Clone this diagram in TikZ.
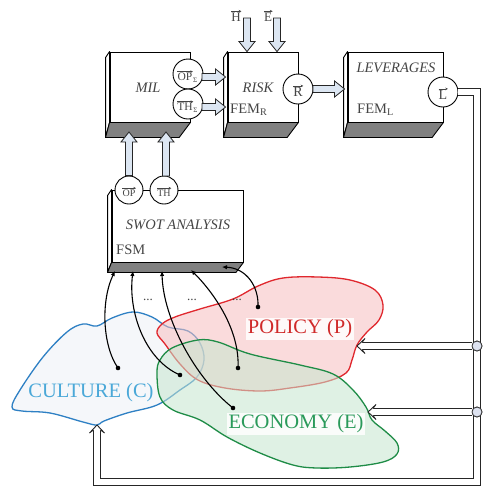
\documentclass[tikz,border=0pt]{standalone}
\usepackage{fontspec}
\setmainfont{Liberation Serif}
\usetikzlibrary{arrows.meta,calc}

\definecolor{boxtext}{HTML}{454545}
\definecolor{facegray}{HTML}{808080}
\definecolor{arrowfill}{HTML}{DCE6F2}
\definecolor{culturec}{HTML}{2E80C4}
\definecolor{culturet}{HTML}{4AA8D8}
\definecolor{culturef}{HTML}{EEF2F7}
\definecolor{policyc}{HTML}{E0282E}
\definecolor{policyt}{HTML}{D02A2A}
\definecolor{policyf}{HTML}{F7BFC0}
\definecolor{economyc}{HTML}{1E8C46}
\definecolor{economyt}{HTML}{2A9A5A}
\definecolor{economyf}{HTML}{C6E6CF}
\definecolor{jointfill}{HTML}{DDE2F0}

\tikzset{
  frontface/.style={draw, fill=white, line width=0.9pt, inner sep=0pt, rectangle},
  sideface/.style={draw, fill=white, line width=0.9pt, line join=round},
  bottomface/.style={draw, fill=facegray, line width=0.9pt, line join=round},
  port/.style={draw, circle, fill=white, line width=0.9pt, inner sep=0pt,
    minimum size=#1},
  port/.default=30pt,
  portlabel/.style={text=boxtext, inner sep=0pt},
  sublabel/.style={text=boxtext, inner sep=0pt, font=\fontsize{7}{8}\selectfont},
  vecarrow/.style={draw=boxtext, line width=0.5pt, -{Stealth[length=2.6pt,width=2.6pt]}},
  fatarrow/.style={draw=black!85, fill=arrowfill, line width=0.8pt, line join=miter},
  pipe/.style={draw=black!85, double=white, double distance=5.5pt, line width=0.9pt,
    line join=miter},
  pipehead/.style={draw=black!85, fill=white, line width=0.9pt, line join=miter},
  junction/.style={draw=black!80, circle, fill=jointfill, minimum size=10pt,
    inner sep=0pt, line width=0.8pt},
  boxlabel/.style={text=boxtext, inner sep=0pt, font=\fontsize{14.5}{16}\selectfont},
  link/.style={line width=1.1pt, -{Latex[length=5pt,width=4.5pt]}},
  bloblabel/.style={font=\fontsize{20.5}{22}\selectfont, fill=white,
    fill opacity=0.85, text opacity=1, inner sep=1.5pt},
  blob/.style={line width=1.3pt, fill opacity=0.55},
}

% a block seen from below-left: front face, thin left face, grey bottom face
\newcommand\cubeblock[6]{%
  \node[frontface, minimum width=#4pt, minimum height=#5pt] (#1) at (#2,#3) {};
  \draw[sideface] (#1.north west) -- ++(-4,6) -- ($(#1.south west)+(-4,#6)$)
    -- (#1.south west) -- cycle;
  \draw[bottomface] (#1.south west) -- (#1.south east) -- ++({-0.75*#6},#6)
    -- ($(#1.south west)+(-4,#6)$) -- cycle;
}

% broad hollow arrow between two named coordinates
\newcommand\fatarrowpath[2]{%
  \coordinate (fah) at ($(#2)!10pt!(#1)$);
  \draw[fatarrow] ($(#1)!3.5pt!90:(#2)$) -- ($(fah)!3.5pt!-90:(#1)$)
    -- ($(fah)!8pt!-90:(#1)$) -- (#2) -- ($(fah)!8pt!90:(#1)$)
    -- ($(fah)!3.5pt!90:(#1)$) -- ($(#1)!3.5pt!-90:(#2)$) -- cycle;
}

% open head of a double-line pipe: tip, point back along the pipe
\newcommand\pipeheadat[2]{%
  \coordinate (phb) at ($(#1)!8pt!(#2)$);
  \coordinate (phi) at ($(#1)!5pt!(#2)$);
  \path[pipehead] ($(phi)!3.6pt!90:(#2)$) -- ($(phb)!7.5pt!90:(#2)$) -- (#1)
    -- ($(phb)!7.5pt!-90:(#2)$) -- ($(phi)!3.6pt!-90:(#2)$);
}

% vector arrow over a named text node
\newcommand\vecover[1]{%
  \draw[vecarrow] ($(#1.north west)+(0,-1.3)$) -- ($(#1.north east)+(0.4,-1.3)$);
}

\begin{document}
\begin{tikzpicture}[x=1pt,y=-1pt]
\fill[white] (0,0) rectangle (483,488);
\useasboundingbox (0,0) rectangle (483,488);

% ---------- environment clouds ----------
\draw[blob, draw=culturec, fill=culturef] plot[smooth cycle, tension=0.6] coordinates {
  (12,407) (20,390) (43,357) (67,332) (83,324) (97,326) (112,318) (133,312)
  (152,317) (168,327) (188,331) (200,343) (204,360) (197,377) (180,390)
  (157,405) (127,413) (104,421) (97,425) (83,422) (50,413) (22,411)};
\coordinate (cbot) at (97,425);
\node[text=culturet, font=\fontsize{20.5}{22}\selectfont, inner sep=0pt] (cult) at (91,393) {CULTURE (C)};

\draw[blob, draw=policyc, fill=policyf] plot[smooth cycle, tension=0.6] coordinates {
  (157,333) (162,324) (175,317) (200,309) (233,299) (258,286) (283,278)
  (318,277) (350,280) (375,290) (383,305) (379,320) (367,332) (357,345)
  (352,360) (346,373) (325,382) (290,388) (260,391) (225,388) (198,380)
  (180,364) (165,344)};
\coordinate (pin) at (357,346);
\node[bloblabel, text=policyt] (pol) at (300,329) {POLICY (P)};

\draw[blob, draw=economyc, fill=economyf] plot[smooth cycle, tension=0.6] coordinates {
  (157,373) (160,360) (172,348) (198,340) (218,342) (250,354) (300,365)
  (333,374) (353,390) (366,407) (372,420) (385,431) (397,443) (397,454)
  (383,462) (350,467) (317,468) (293,465) (260,453) (227,437) (200,420)
  (173,410) (160,397)};
\coordinate (ein) at (368,412);
\node[bloblabel, text=economyt] (eco) at (296,424) {ECONOMY (E)};

% ---------- blocks ----------
\cubeblock{mil}{150}{87}{80}{70}{15}
\cubeblock{risk}{263}{87}{70}{70}{15}
\cubeblock{lev}{395.5}{87}{95}{70}{15}
\cubeblock{swot}{177.5}{226}{131}{72}{10}

\node[boxlabel, font=\itshape\fontsize{14.5}{16}\selectfont] (milt) at (148,88) {MIL};
\node[boxlabel, font=\itshape\fontsize{14.5}{16}\selectfont] (riskt) at (258,88) {RISK};
\node[boxlabel, anchor=west] (femr) at (230,110) {FEM\textsubscript{R}};
\node[boxlabel, font=\itshape\fontsize{14.5}{16}\selectfont] (levt) at (396,68) {LEVERAGES};
\node[boxlabel, anchor=west] (feml) at (357,110) {FEM\textsubscript{L}};
\node[boxlabel, font=\itshape\fontsize{14.5}{16}\selectfont] (swott) at (178,225) {SWOT ANALYSIS};
\node[boxlabel, anchor=west] (fsm) at (116,250) {FSM};

% ---------- ports ----------
\node[port] (ops) at (188,74) {};
\node[port] (ths) at (188,104) {};
\node[port] (r) at (298,89) {};
\node[port] (l) at (443,92) {};
\node[port=28pt] (op) at (129,190) {};
\node[port=28pt] (th) at (164,190) {};

\node[portlabel, font=\fontsize{11.5}{13}\selectfont] (opst) at (185,77) {OP};
\node[sublabel, anchor=base west] (opss) at ($(opst.base east)+(0.3,2)$) {Σ};
\vecover{opst}
\node[portlabel, font=\fontsize{11.5}{13}\selectfont] (thst) at (185,107) {TH};
\node[sublabel, anchor=base west] (thss) at ($(thst.base east)+(0.3,2)$) {Σ};
\vecover{thst}
\node[portlabel, font=\fontsize{14}{16}\selectfont] (rt) at (298,92) {R};
\vecover{rt}
\node[portlabel, font=\fontsize{14}{16}\selectfont] (lt) at (443,95) {L};
\vecover{lt}
\node[portlabel, font=\fontsize{10}{12}\selectfont] (opt) at (129,193) {OP};
\vecover{opt}
\node[portlabel, font=\fontsize{10}{12}\selectfont] (tht) at (164,193) {TH};
\vecover{tht}

% ---------- external inputs ----------
\node[portlabel, font=\fontsize{13}{14}\selectfont] (hlab) at (236,17) {H};
\vecover{hlab}
\node[portlabel, font=\fontsize{13}{14}\selectfont] (elab) at (268,17) {E};
\vecover{elab}

% ---------- broad arrows ----------
\coordinate (hs) at (247,18);
\coordinate (he) at (hs |- risk.north);
\fatarrowpath{hs}{he}
\coordinate (es) at (277,18);
\coordinate (ee) at (es |- risk.north);
\fatarrowpath{es}{ee}
\coordinate (opsa) at ($(ops.center)+(14,3)$);
\coordinate (opsb) at ($(risk.west |- opsa)+(-2,0)$);
\fatarrowpath{opsa}{opsb}
\coordinate (thsa) at ($(ths.center)+(14,3)$);
\coordinate (thsb) at ($(risk.west |- thsa)+(-2,0)$);
\fatarrowpath{thsa}{thsb}
\coordinate (ra) at ($(r.center)+(15,0)$);
\coordinate (rb) at ($(lev.west |- ra)+(-3,0)$);
\fatarrowpath{ra}{rb}
\coordinate (opa) at (op.north);
\coordinate (opb) at (129,132);
\fatarrowpath{opa}{opb}
\coordinate (tha) at (166,176);
\coordinate (thb) at (166,132);
\fatarrowpath{tha}{thb}

% ---------- feedback of leverages ----------
\coordinate (fbx) at (477,482);
\coordinate (fbl) at (cbot |- fbx);
\draw[pipe, shorten >=5pt] (l.east) -| (fbx) -| (cbot);
\pipeheadat{cbot}{fbl}
\node[junction] (j1) at (477,346) {};
\node[junction] (j2) at (477,412) {};
\draw[pipe, shorten >=5pt] (j1.west) -- (pin);
\pipeheadat{pin}{j1}
\draw[pipe, shorten >=5pt] (j2.west) -- (ein);
\pipeheadat{ein}{j2}
\node[junction] at (j1) {};
\node[junction] at (j2) {};

% ---------- links from the environment to the SWOT analysis ----------
\coordinate (s1) at (115,271);
\coordinate (s2) at (133,271);
\coordinate (s3) at (162,271);
\coordinate (s4) at (191,270);
\coordinate (s5) at (222,267);
\coordinate (d1) at (118,368);
\coordinate (d2) at (180,375);
\coordinate (d3) at (233,408);
\coordinate (d4) at (238,368);
\coordinate (d5) at (258,307);
\draw[link] (d1) .. controls (102,345) and (101,300) .. (s1);
\draw[link] (d2) .. controls (145,360) and (128,312) .. (s2);
\draw[link] (d3) .. controls (195,378) and (163,318) .. (s3);
\draw[link] (d4) .. controls (240,330) and (214,293) .. (s4);
\draw[link] (d5) .. controls (259,286) and (246,268) .. (s5);
\foreach \d in {d1,d2,d3,d4,d5} \fill (\d) circle (2.3);
\foreach \x/\n in {148/g1,192/g2,237/g3}
  \node[text=boxtext, font=\fontsize{13}{14}\selectfont, inner sep=0pt] (\n) at (\x,300) {...};
\end{tikzpicture}
\end{document}
